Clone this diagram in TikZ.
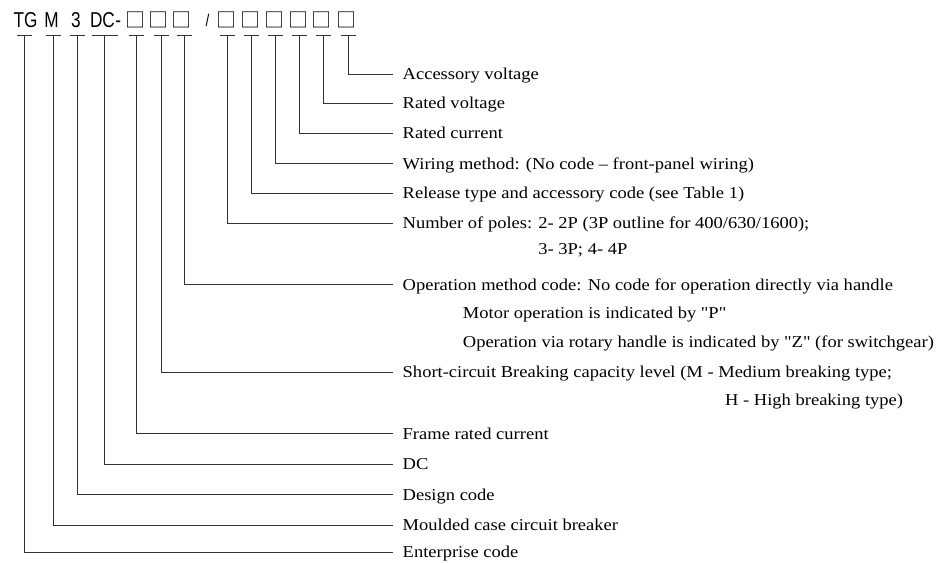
\documentclass[tikz,border=0pt]{standalone}
\usepackage{fontspec}
\setmainfont[FakeStretch=1.115,Ligatures=TeXOff]{Liberation Serif}
\newfontfamily\hdrfont[FakeStretch=0.8]{Liberation Sans}
\newfontfamily\boxfont{Noto Sans CJK SC}
\begin{document}
\begin{tikzpicture}[x=1pt,y=-1pt,
  conn/.style={line width=0.8pt, draw=black!80},
  lbl/.style={anchor=base west, inner sep=0pt, font=\fontsize{16.6}{19}\selectfont},
  code/.style={anchor=base, inner sep=0pt, font=\hdrfont\fontsize{21.5}{24}\selectfont},
  sq/.style={anchor=center, inner sep=0pt, font=\boxfont\fontsize{20}{23}\selectfont}]
\useasboundingbox (0,0) rectangle (949,562);

% header code
\node[code] (cTG) at (25.5,27) {TG};
\node[code] (cM) at (51.5,27) {M};
\node[code] (c3) at (76,27) {3};
\node[code] (cDC) at (102.5,27) {DC};
\node[code, anchor=base west] (chy) at (cDC.base east) {-};
\node[sq] (b1) at (135,19.5) {□};
\node[sq] (b2) at (158.5,19.5) {□};
\node[sq] (b3) at (181,19.5) {□};
\node[code, font=\hdrfont\fontsize{17}{20}\selectfont] (csl) at (207.5,26) {/};
\node[sq] (b4) at (226.5,19.5) {□};
\node[sq] (b5) at (250,19.5) {□};
\node[sq] (b6) at (274,19.5) {□};
\node[sq] (b7) at (298.5,19.5) {□};
\node[sq] (b8) at (321.5,19.5) {□};
\node[sq] (b9) at (346.5,19.5) {□};

% tick points
\coordinate (t1) at (348,35);
\coordinate (t2) at (323.5,35);
\coordinate (t3) at (299.5,35);
\coordinate (t4) at (275.5,35);
\coordinate (t5) at (251.5,35);
\coordinate (t6) at (227.5,35);
\coordinate (t7) at (184,35);
\coordinate (t8) at (161.5,35);
\coordinate (t9) at (136,35);
\coordinate (t10) at (104.5,35);
\coordinate (t11) at (77,35);
\coordinate (t12) at (53.5,35);
\coordinate (t13) at (24.5,35);

% labels
\node[lbl] (l1) at (402.5,79.8) {Accessory voltage};
\node[lbl] (l2) at (402.5,108.8) {Rated voltage};
\node[lbl] (l3) at (402.5,138.8) {Rated current};
\node[lbl] (l4) at (402.5,169.2) {Wiring method: (No code – front-panel wiring)};
\node[lbl] (l5) at (402.5,198.5) {Release type and accessory code (see Table 1)};
\node[lbl] (l6) at (402.5,228.5) {Number of poles: 2- 2P (3P outline for 400/630/1600);};
\node[lbl] (l6b) at (402.5,254) {\hphantom{Number of poles: }3- 3P; 4- 4P};
\node[lbl] (l7) at (402.5,290.2) {Operation method code: No code for operation directly via handle};
\node[lbl] (l7b) at (462.7,318.5) {Motor operation is indicated by "P"};
\node[lbl] (l7c) at (462.7,347) {Operation via rotary handle is indicated by "Z" (for switchgear)};
\node[lbl] (l8) at (402.5,377.8) {Short-circuit Breaking capacity level (M - Medium breaking type;};
\node[lbl] (l8b) at (725,405) {H - High breaking type)};
\node[lbl] (l9) at (402.5,439.2) {Frame rated current};
\node[lbl] (l10) at (402.5,469.8) {DC};
\node[lbl] (l11) at (402.5,500.2) {Design code};
\node[lbl] (l12) at (402.5,530.5) {Moulded case circuit breaker};
\node[lbl] (l13) at (402.5,557.5) {Enterprise code};

% ticks
\foreach \t in {t1,t2,t3,t4,t5,t6,t7,t8,t9,t11,t12,t13}
  \draw[conn] ([xshift=-7.5pt]\t) -- ([xshift=7.5pt]\t);
\draw[conn] ([xshift=-13pt]t10) -- ([xshift=13pt]t10);

% connectors
\foreach \i in {1,...,13}
  \draw[conn] (t\i) |- ([shift={(-9.5pt,5.5pt)}]l\i.base west);
\end{tikzpicture}
\end{document}
